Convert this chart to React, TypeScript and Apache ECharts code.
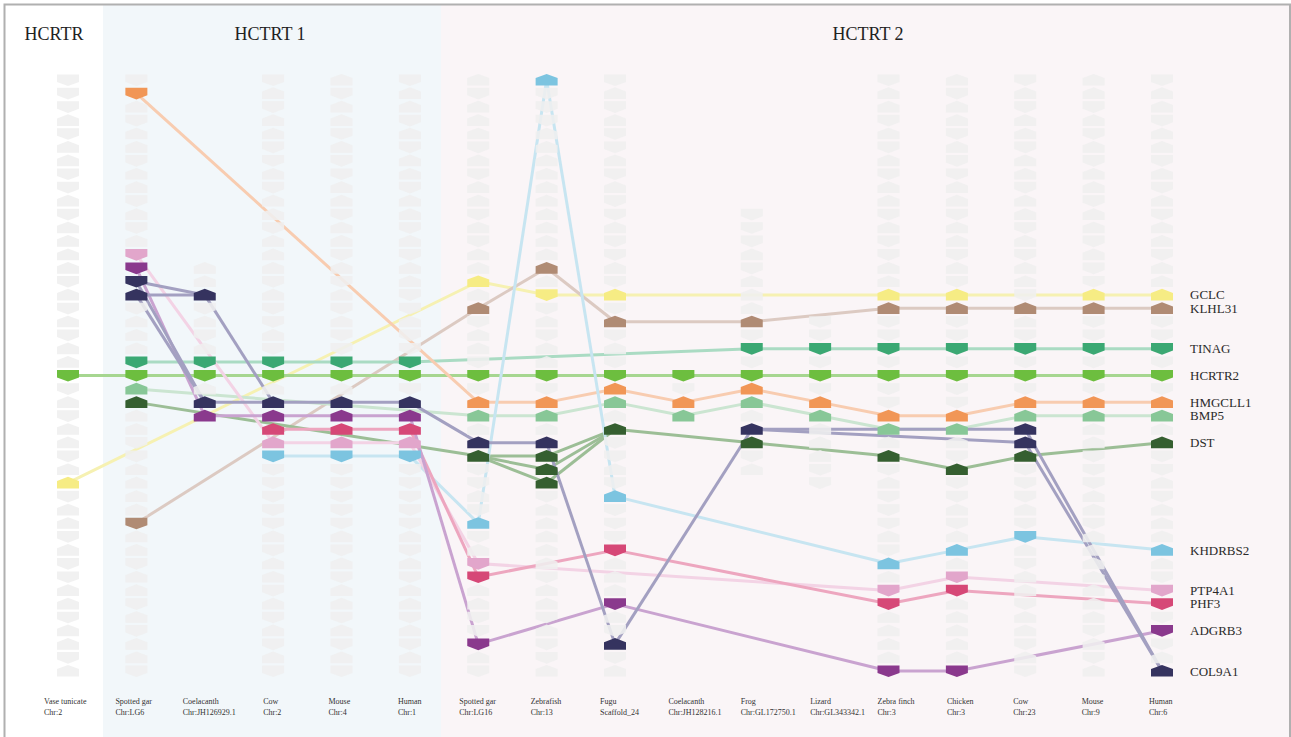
import React, { useEffect, useRef } from "react";
import * as echarts from "echarts";

// ---------- columns (species / chromosome) ----------
const columnNames = [
  "Vase tunicate", "Spotted gar", "Coelacanth", "Cow", "Mouse", "Human",
  "Spotted gar", "Zebrafish", "Fugu", "Coelacanth", "Frog", "Lizard",
  "Zebra finch", "Chicken", "Cow", "Mouse", "Human",
];
const columnChromosomes = [
  "Chr:2", "Chr:LG6", "Chr:JH126929.1", "Chr:2", "Chr:4", "Chr:1",
  "Chr:LG16", "Chr:13", "Scaffold_24", "Chr:JH128216.1", "Chr:GL172750.1", "Chr:GL343342.1",
  "Chr:3", "Chr:3", "Chr:23", "Chr:9", "Chr:6",
];
// first and last gene slot shown in each column
const columnSlotRanges = [
  [0, 44], [0, 44], [14, 25], [0, 44], [0, 44], [0, 44],
  [0, 44], [0, 44], [0, 44], [22, 25], [10, 29], [18, 30],
  [0, 44], [0, 44], [0, 44], [0, 44], [0, 44],
];
// orientation of the neighbouring (grey) genes, U = pointing up, D = pointing down
const columnOrientation = [
  "DDDUDUUDDUDUUUUDUDUDUUDDUDUUDUUDUUDUDDUUDUUDU",
  "DDUDUUDUUDUDUDDDUDUUUDDUUUUDDUUUUDUUDUUDUDUUD",
  "UUUUUUUUUUUUUUUUUDUDUDDUUUUUUUUUUUUUUUUUUUUUU",
  "DUDUUDDUDUUDUUUDUDDUDDDUUUUUDDDDDDUDUUDUDUDUD",
  "UDUUDUDDUUDUUDUDUDUDDDDUUUUUDDDDDDUDUDUUDUDUD",
  "DUUDUDUUDUUDUDUUDDUDDDDDUUUUDDDDDDUDUDUUDUDUD",
  "UDUUUDUDUUDUDUUUUUDUUDDDUUUUUDDUDUDUDDUUDDDUD",
  "UDDDUUUUUUUUUUUUDDUDUUDDUUUUUUUDUUUUUDUUDUDDU",
  "DUDUDDUDUDDUDDUDUDUDUDDUUUUDDUDUDDDDUUUDUDUDU",
  "UUUUUUUUUUUUUUUUUUUUUUDDUUUUUUUUUUUUUUUUUUUUU",
  "UUUUUUUUUUDDDUDUUUUDDDDUUUUUDUUUUUUUUUUUUUUUU",
  "UUUUUUUUUUUUUUUUUUDDDDDDUUUUUDDUUUUUUUUUUUUUU",
  "DUUDUDUDUUDUDDUUUUDDDDDDDUUUUDUDDDUDUUDDUUUUD",
  "UDUUDUDDUUDUUDUDUUDDDDDDDUUUDUDDUDUUUDDUUUUUD",
  "DUDUUDUUDUUDUDUUDUUDDDDDUUUUUDDDUDDUDUUDUUDUD",
  "UUDUDUDUUDUUDUDDUUDDDDDDUUUUDDDUUDUUUUUUUDUD",
  "DUUDUUDUDUDUUDUUUUDDDDDDUUUUDDUDUUUUUDDUDUDU",
];

// ---------- genes ----------
const geneNames = ["GCLC", "KLHL31", "TINAG", "HCRTR2", "HMGCLL1", "BMP5", "DST", "KHDRBS2", "PTP4A1", "PHF3", "ADGRB3", "COL9A1"];
const geneColors = ["#f6ec84", "#b08b74", "#3ba873", "#6dbe3f", "#f19656", "#88c797", "#355f30", "#7cc4e0", "#e2a6cb", "#d64877", "#8a398d", "#35335f"];
const geneLineColors = ["#f6f1b2", "#dccac2", "#aadbc3", "#a6d690", "#f8ccb0", "#cbe5d1", "#9cbe96", "#c7e5f1", "#f3d3e5", "#eda6bf", "#c9a3d0", "#a3a0c1"];

// markers: [column, slot, orientation]
const gclcMarkers = [[0, 30, "U"], [6, 15, "U"], [7, 16, "D"], [8, 16, "U"], [12, 16, "U"], [13, 16, "U"], [15, 16, "U"], [16, 16, "U"]];
const klhl31Markers = [[1, 33, "D"], [6, 17, "U"], [7, 14, "U"], [8, 18, "U"], [10, 18, "U"], [12, 17, "U"], [13, 17, "U"], [14, 17, "U"], [15, 17, "U"], [16, 17, "U"]];
const tinagMarkers = [[1, 21, "D"], [2, 21, "D"], [3, 21, "D"], [4, 21, "D"], [5, 21, "D"], [10, 20, "D"], [11, 20, "D"], [12, 20, "D"], [13, 20, "D"], [14, 20, "D"], [15, 20, "D"], [16, 20, "D"]];
const hcrtr2Markers = [[0, 22, "D"], [1, 22, "D"], [2, 22, "D"], [3, 22, "D"], [4, 22, "D"], [5, 22, "D"], [6, 22, "D"], [7, 22, "D"], [8, 22, "D"], [9, 22, "D"], [10, 22, "D"], [11, 22, "D"], [12, 22, "D"], [13, 22, "D"], [14, 22, "D"], [15, 22, "D"], [16, 22, "D"]];
const hmgcll1Markers = [[1, 1, "D"], [6, 24, "U"], [7, 24, "U"], [8, 23, "U"], [9, 24, "U"], [10, 23, "U"], [11, 24, "U"], [12, 25, "U"], [13, 25, "U"], [14, 24, "U"], [15, 24, "U"], [16, 24, "U"]];
const bmp5Markers = [[1, 23, "U"], [6, 25, "U"], [7, 25, "U"], [8, 24, "U"], [9, 25, "U"], [10, 24, "U"], [11, 25, "U"], [12, 26, "U"], [13, 26, "U"], [14, 25, "U"], [15, 25, "U"], [16, 25, "U"]];
const dstMarkers = [[1, 24, "U"], [6, 28, "U"], [7, 28, "U"], [7, 29, "U"], [7, 30, "U"], [8, 26, "U"], [10, 27, "U"], [12, 28, "U"], [13, 29, "U"], [14, 28, "U"], [16, 27, "U"]];
const khdrbs2Markers = [[3, 28, "D"], [4, 28, "D"], [5, 28, "D"], [6, 33, "U"], [7, 0, "U"], [8, 31, "U"], [12, 36, "U"], [13, 35, "U"], [14, 34, "D"], [16, 35, "U"]];
const ptp4a1Markers = [[1, 13, "D"], [3, 27, "U"], [4, 27, "U"], [5, 27, "U"], [6, 36, "D"], [12, 38, "D"], [13, 37, "D"], [16, 38, "D"]];
const phf3Markers = [[3, 26, "U"], [4, 26, "U"], [5, 26, "U"], [6, 37, "D"], [8, 35, "D"], [12, 39, "D"], [13, 38, "D"], [16, 39, "D"]];
const adgrb3Markers = [[1, 14, "D"], [2, 25, "U"], [3, 25, "U"], [4, 25, "U"], [5, 25, "U"], [6, 42, "D"], [8, 39, "D"], [12, 44, "D"], [13, 44, "D"], [16, 41, "D"]];
const col9a1Markers = [[1, 15, "D"], [1, 16, "U"], [2, 16, "U"], [2, 24, "U"], [3, 24, "U"], [4, 24, "U"], [5, 24, "U"], [6, 27, "U"], [7, 27, "U"], [8, 42, "U"], [10, 26, "U"], [14, 26, "U"], [14, 27, "U"], [16, 44, "U"]];

// links: chains of [column, slot]
const gclcLinks = [[[0, 30], [6, 15], [7, 16], [8, 16], [12, 16], [13, 16], [15, 16], [16, 16]]];
const klhl31Links = [[[1, 33], [6, 17], [7, 14], [8, 18], [10, 18], [12, 17], [13, 17], [14, 17], [15, 17], [16, 17]]];
const tinagLinks = [[[1, 21], [2, 21], [3, 21], [4, 21], [5, 21], [10, 20], [11, 20], [12, 20], [13, 20], [14, 20], [15, 20], [16, 20]]];
const hcrtr2Links = [[[0, 22], [1, 22], [2, 22], [3, 22], [4, 22], [5, 22], [6, 22], [7, 22], [8, 22], [9, 22], [10, 22], [11, 22], [12, 22], [13, 22], [14, 22], [15, 22], [16, 22]]];
const hmgcll1Links = [[[1, 1], [6, 24], [7, 24], [8, 23], [9, 24], [10, 23], [11, 24], [12, 25], [13, 25], [14, 24], [15, 24], [16, 24]]];
const bmp5Links = [[[1, 23], [6, 25], [7, 25], [8, 24], [9, 25], [10, 24], [11, 25], [12, 26], [13, 26], [14, 25], [15, 25], [16, 25]]];
const dstLinks = [
  [[1, 24], [6, 28], [7, 28], [8, 26], [10, 27], [12, 28], [13, 29], [14, 28], [16, 27]],
  [[6, 28], [7, 29], [8, 26]],
  [[6, 28], [7, 30], [8, 26]],
];
const khdrbs2Links = [[[3, 28], [4, 28], [5, 28], [6, 33], [7, 0], [8, 31], [12, 36], [13, 35], [14, 34], [16, 35]]];
const ptp4a1Links = [[[1, 13], [3, 27], [4, 27], [5, 27], [6, 36], [12, 38], [13, 37], [16, 38]]];
const phf3Links = [[[3, 26], [4, 26], [5, 26], [6, 37], [8, 35], [12, 39], [13, 38], [16, 39]]];
const adgrb3Links = [[[1, 14], [2, 25], [3, 25], [4, 25], [5, 25], [6, 42], [8, 39], [12, 44], [13, 44], [16, 41]]];
const col9a1Links = [
  [[1, 15], [2, 16], [3, 24], [4, 24], [5, 24], [6, 27], [7, 27], [8, 42], [10, 26], [14, 26], [16, 44]],
  [[1, 16], [2, 16]],
  [[1, 15], [2, 24], [3, 24]],
  [[1, 16], [2, 24]],
  [[10, 26], [14, 27], [16, 44]],
];

const groupTitles = ["HCRTR", "HCTRT 1", "HCTRT 2"];

const geneMarkers = [gclcMarkers, klhl31Markers, tinagMarkers, hcrtr2Markers, hmgcll1Markers, bmp5Markers, dstMarkers, khdrbs2Markers, ptp4a1Markers, phf3Markers, adgrb3Markers, col9a1Markers];
const geneLinks = [gclcLinks, klhl31Links, tinagLinks, hcrtr2Links, hmgcll1Links, bmp5Links, dstLinks, khdrbs2Links, ptp4a1Links, phf3Links, adgrb3Links, col9a1Links];

// ---------- layout (pixels) ----------
const labelShift = [-24, -21, -22, -10, -13, -12, -19, -16, -15, -15, -11, -10, -11, -10, -12, -12, -13];
const SERIF = '"Liberation Serif", "DejaVu Serif", serif';
const HALF_W = 11;

function markerPoints(cx: number, cy: number, up: boolean) {
  const k = up ? 1 : -1;
  return [
    [cx - HALF_W, cy + 5.6 * k],
    [cx + HALF_W, cy + 5.6 * k],
    [cx + HALF_W, cy - 1.9 * k],
    [cx, cy - 6.1 * k],
    [cx - HALF_W, cy - 1.9 * k],
  ];
}

export default function App() {
  const ref = useRef<HTMLDivElement>(null);

  useEffect(() => {
    if (!ref.current) return;
    const chart = echarts.init(ref.current, null, { renderer: "svg" });

    // build data
    const linkData: number[][] = [];
    geneLinks.forEach((chains, g) => {
      chains.forEach((chain) => {
        for (let i = 0; i < chain.length - 1; i++) {
          linkData.push([chain[i][0], chain[i][1], chain[i + 1][0], chain[i + 1][1], g]);
        }
      });
    });
    const occupied = new Set<string>();
    const colorData: number[][] = [];
    geneMarkers.forEach((ms, g) => {
      ms.forEach((m: any) => {
        occupied.add(m[0] + ":" + m[1]);
        colorData.push([m[0], m[1], m[2] === "U" ? 1 : 0, g]);
      });
    });
    const greyData: number[][] = [];
    columnSlotRanges.forEach((r, c) => {
      for (let s = r[0]; s <= r[1]; s++) {
        if (occupied.has(c + ":" + s)) continue;
        const o = columnOrientation[c][s] || "U";
        greyData.push([c, s, o === "U" ? 1 : 0]);
      }
    });
    const lastCol = columnNames.length - 1;
    const geneLabelData: number[][] = [];
    geneMarkers.forEach((ms, g) => {
      const m: any = ms.find((x: any) => x[0] === lastCol);
      if (m) geneLabelData.push([lastCol, m[1], g]);
    });
    const colLabelData = columnNames.map((_, c) => [c, 44, c]);

    chart.setOption({
      animation: false,
      grid: { left: 68, right: 1291 - 1162, top: 80, bottom: 737 - 671 },
      xAxis: { type: "value", min: 0, max: 16, show: false },
      yAxis: { type: "value", min: 0, max: 44, inverse: true, show: false },
      graphic: {
        elements: [
          { type: "rect", z: 0, shape: { x: 103, y: 5, width: 338, height: 740 }, style: { fill: "#f2f7fa" }, silent: true },
          { type: "rect", z: 0, shape: { x: 441, y: 5, width: 849, height: 740 }, style: { fill: "#faf5f7" }, silent: true },
          { type: "rect", z: 100, shape: { x: 4.5, y: 4.5, width: 1285.5, height: 800 }, style: { fill: "none", stroke: "#b0b0b0", lineWidth: 2 }, silent: true },
          { type: "text", z: 100, x: 54, y: 34, style: { text: groupTitles[0], font: "18px " + SERIF, fill: "#222", textAlign: "center", textVerticalAlign: "middle" } },
          { type: "text", z: 100, x: 270, y: 34, style: { text: groupTitles[1], font: "18px " + SERIF, fill: "#222", textAlign: "center", textVerticalAlign: "middle" } },
          { type: "text", z: 100, x: 868, y: 34, style: { text: groupTitles[2], font: "18px " + SERIF, fill: "#222", textAlign: "center", textVerticalAlign: "middle" } },
        ],
      },
      series: [
        {
          type: "custom",
          z: 2,
          silent: true,
          data: linkData,
          renderItem: (_p: any, api: any) => {
            const a = api.coord([api.value(0), api.value(1)]);
            const b = api.coord([api.value(2), api.value(3)]);
            return {
              type: "line",
              shape: { x1: a[0], y1: a[1], x2: b[0], y2: b[1] },
              style: { stroke: geneLineColors[api.value(4)], lineWidth: 3, lineCap: "butt" },
            };
          },
        },
        {
          type: "custom",
          z: 3,
          silent: true,
          data: greyData,
          renderItem: (_p: any, api: any) => {
            const c = api.coord([api.value(0), api.value(1)]);
            return {
              type: "polygon",
              shape: { points: markerPoints(c[0], c[1], api.value(2) === 1) },
              style: { fill: "#efefef", opacity: 0.88 },
            };
          },
        },
        {
          type: "custom",
          z: 4,
          silent: true,
          data: colorData,
          renderItem: (_p: any, api: any) => {
            const c = api.coord([api.value(0), api.value(1)]);
            return {
              type: "polygon",
              shape: { points: markerPoints(c[0], c[1], api.value(2) === 1) },
              style: { fill: geneColors[api.value(3)] },
            };
          },
        },
        {
          type: "custom",
          z: 5,
          silent: true,
          data: geneLabelData,
          renderItem: (_p: any, api: any) => {
            const c = api.coord([api.value(0), api.value(1)]);
            return {
              type: "text",
              x: c[0] + 28,
              y: c[1],
              style: {
                text: geneNames[api.value(2)],
                font: "13px " + SERIF,
                fill: "#2a2a2a",
                textAlign: "left",
                textVerticalAlign: "middle",
              },
            };
          },
        },
        {
          type: "custom",
          z: 5,
          silent: true,
          data: colLabelData,
          renderItem: (_p: any, api: any) => {
            const c = api.coord([api.value(0), api.value(1)]);
            const i = api.value(2);
            return {
              type: "group",
              children: [
                {
                  type: "text",
                  x: c[0] + labelShift[i],
                  y: c[1] + 30,
                  style: { text: columnNames[i], font: "8px " + SERIF, fill: "#333", textAlign: "left", textVerticalAlign: "middle" },
                },
                {
                  type: "text",
                  x: c[0] + labelShift[i],
                  y: c[1] + 41,
                  style: { text: columnChromosomes[i], font: "8px " + SERIF, fill: "#333", textAlign: "left", textVerticalAlign: "middle" },
                },
              ],
            };
          },
        },
      ],
    });

    return () => chart.dispose();
  }, []);

  return (
    <div
      ref={ref}
      style={{ position: "absolute", left: 0, top: 0, width: 1291, height: 737, background: "#fff" }}
    />
  );
}
